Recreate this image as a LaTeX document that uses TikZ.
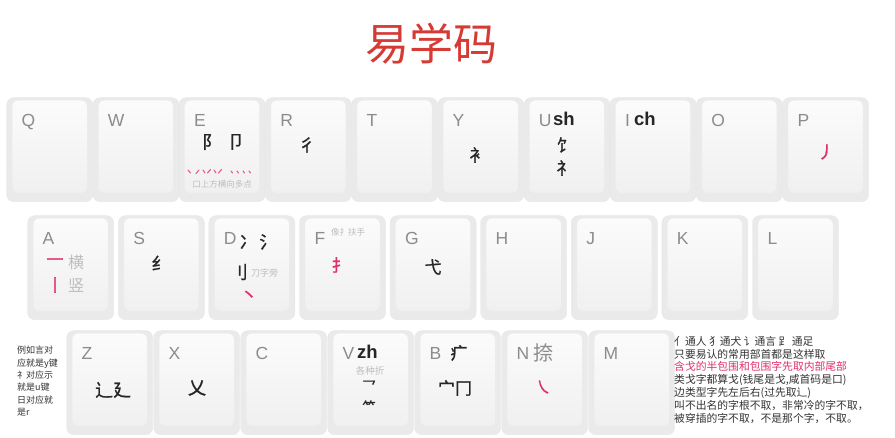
\documentclass[tikz,border=0pt]{standalone}
\usepackage{fontspec}
\setmainfont{Noto Sans CJK SC}
\newfontfamily\cjkb[FakeBold=1.2]{Noto Sans CJK SC}
\newfontfamily\latin{Liberation Sans}
\definecolor{titlered}{HTML}{D63A35}
\definecolor{lblgray}{HTML}{8C8C8C}
\definecolor{notegray}{HTML}{BDBDBD}
\definecolor{pinkr}{HTML}{E0306A}
\definecolor{basegray}{HTML}{EAEAEA}
\definecolor{facegray}{HTML}{F0F0F0}
\definecolor{textdark}{HTML}{333333}
\tikzset{
  keybase/.style={fill=basegray, draw=gray!18, line width=0.4pt, rounded corners=7pt,
    minimum width=86pt, minimum height=104pt, anchor=north west, inner sep=0},
  keyface/.style={top color=white!97!gray, bottom color=facegray, draw=gray!16, line width=0.4pt,
    rounded corners=6pt, minimum width=75pt, minimum height=93pt, anchor=north west, inner sep=0},
  klbl/.style={anchor=base west, inner sep=0, text=lblgray, font=\latin\fontsize{17.5}{17.5}\selectfont},
  bopo/.style={anchor=base west, inner sep=0, text=black!85, font=\latin\bfseries\fontsize{18.5}{18.5}\selectfont},
  rad/.style={inner sep=0, text=black!85, font=\cjkb\fontsize{17}{17}\selectfont},
  pinkrad/.style={rad, text=pinkr},
  tinynote/.style={inner sep=0, text=notegray, font=\fontsize{8.5}{8.5}\selectfont},
  graych/.style={inner sep=0, text=notegray, font=\fontsize{16}{16}\selectfont},
  pinkdot/.style={draw=pinkr!80, line width=1.1pt, line cap=round},
  sidenote/.style={anchor=north west, align=left, inner sep=0, text=textdark},
}
\newcommand\mykey[4]{%
  \node[keybase] (#1b) at (#2-5.5,#3-2.5) {};
  \node[keyface] (#1) at (#2,#3) {};
  \node[klbl] (#1l) at (#2+9.5,#3+27) {#4};}
\begin{document}
\begin{tikzpicture}[x=1pt,y=-1pt]
\useasboundingbox (0,0) rectangle (895,438);
\fill[white] (0,0) rectangle (895,438);

\node[text=titlered, font=\fontsize{44}{44}\selectfont, inner sep=0] (title) at (431,44) {易学码};

% Row 1
\mykey{kQ}{12}{100}{Q}
\mykey{kW}{98.2}{100}{W}
\mykey{kE}{184.4}{100}{E}
\mykey{kR}{270.6}{100}{R}
\mykey{kT}{356.8}{100}{T}
\mykey{kY}{443}{100}{Y}
\mykey{kU}{529.2}{100}{U}
\mykey{kI}{615.4}{100}{I}
\mykey{kO}{701.6}{100}{O}
\mykey{kP}{787.8}{100}{P}

\node[rad, font=\cjkb\fontsize{18}{18}\selectfont] (e1) at (211,142) {阝};
\node[rad, font=\cjkb\fontsize{18}{18}\selectfont] (e2) at (236,142) {卩};
\draw[pinkdot] (188,170) -- (190.5,173);
\draw[pinkdot] (196,173.5) -- (199,170);
\draw[pinkdot] (203,170) -- (205,173);
\draw[pinkdot] (207.5,173) -- (210.5,169.5);
\draw[pinkdot] (214,170) -- (216,173);
\draw[pinkdot] (218.5,173) -- (221.5,169.5);
\draw[pinkdot] (231,171) -- (232.5,173);
\draw[pinkdot] (237,171) -- (238.5,173);
\draw[pinkdot] (243,171) -- (244.5,173);
\draw[pinkdot] (249,171) -- (250.5,173);
\node[tinynote] (e3) at (222,184) {口上方横向多点};
\node[rad] (r1) at (307,145) {彳};
\node[rad] (y1) at (478,155) {衤};
\node[bopo] (ush) at (553,126) {sh};
\node[rad] (u1) at (565,145) {饣};
\node[rad] (u2) at (565,168) {礻};
\node[bopo] (ich) at (634,126) {ch};
\node[pinkrad] (p1) at (826,152) {丿};

% Row 2
\mykey{kA}{33}{218}{A}
\mykey{kS}{123.6}{218}{S}
\mykey{kD}{214.2}{218}{D}
\mykey{kF}{304.8}{218}{F}
\mykey{kG}{395.4}{218}{G}
\mykey{kH}{486}{218}{H}
\mykey{kJ}{576.6}{218}{J}
\mykey{kK}{667.2}{218}{K}
\mykey{kL}{757.8}{218}{L}

\node[pinkrad] (a1) at (55,262) {一};
\node[graych] (a2) at (76,262) {横};
\node[pinkrad] (a3) at (55,285) {丨};
\node[graych] (a4) at (76,285) {竖};
\node[rad] (s1) at (160,263) {纟};
\node[rad] (d1) at (258,242) {冫\,氵};
\node[rad, font=\cjkb\fontsize{18}{18}\selectfont] (d2) at (239,272) {刂};
\node[tinynote, anchor=west, font=\fontsize{9}{9}\selectfont] (d3) at (251,273) {刀字旁};
\node[pinkrad] (d4) at (249,296) {丶};
\node[tinynote, font=\fontsize{8.5}{8.5}\selectfont] (f1) at (348,232) {像扌扶手};
\node[pinkrad] (f2) at (340,265) {扌};
\node[rad] (g1) at (433,267) {弋};

% Row 3
\mykey{kZ}{72}{333}{Z}
\mykey{kX}{159}{333}{X}
\mykey{kC}{246}{333}{C}
\mykey{kV}{333}{333}{V}
\mykey{kB}{420}{333}{B}
\mykey{kN}{507}{333}{N}
\mykey{kM}{594}{333}{M}

\node[rad, font=\cjkb\fontsize{18}{18}\selectfont] (z1) at (113,390) {辶廴};
\node[rad, font=\cjkb\fontsize{18}{18}\selectfont] (x1) at (197,388) {乂};
\node[bopo] (vzh) at (357,359) {zh};
\node[tinynote, font=\fontsize{9.5}{9.5}\selectfont] (v1) at (370,371) {各种折};
\node[rad, font=\cjkb\fontsize{14}{14}\selectfont] (v2) at (369,386) {乛};
\node[rad, font=\cjkb\fontsize{13}{13}\selectfont] (v3) at (369,406) {⺮};
\node[rad] (b1) at (459,353) {疒};
\node[rad] (b2) at (455,388) {宀冂};
\node[inner sep=0, text=lblgray, font=\fontsize{20}{20}\selectfont] (n1) at (543,353) {捺};
\node[pinkrad] (n2) at (543,387) {㇏};

% side notes
\node[sidenote, font=\fontsize{9}{12.4}\selectfont] (leftnote) at (17,346)
  {例如言对\\应就是y键\\礻对应示\\就是u键\\日对应就\\是r};
\node[sidenote, font=\fontsize{10.8}{12.8}\selectfont] (rightnote) at (674,336)
  {亻通人 犭通犬 讠通言 ⻊ 通足\\
   只要易认的常用部首都是这样取\\
   \textcolor{pinkr}{含戈的半包围和包围字先取内部尾部}\\
   类戈字都算戈(钱尾是戈,咸首码是口)\\
   边类型字先左后右(过先取辶)\\
   叫不出名的字根不取，非常冷的字不取，\\
   被穿插的字不取，不是那个字，不取。};
\end{tikzpicture}
\end{document}
